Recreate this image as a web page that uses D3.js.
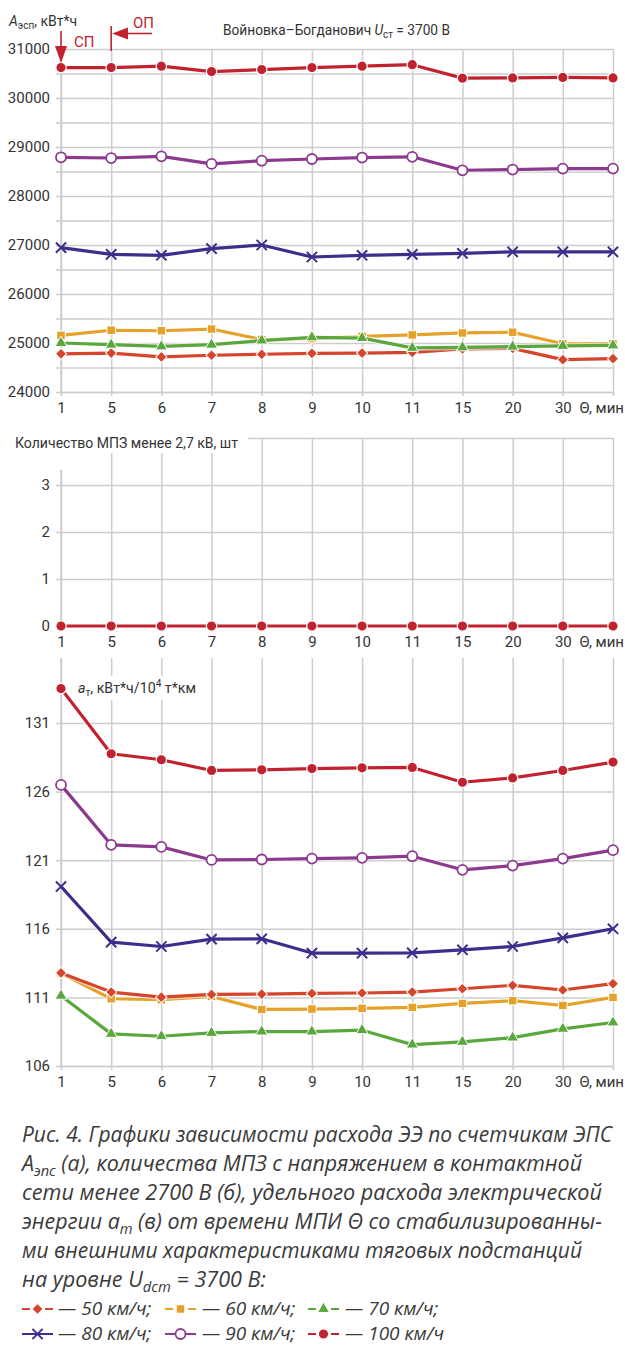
<!DOCTYPE html>
<html lang="ru">
<head>
<meta charset="utf-8">
<script src="https://cdn.jsdelivr.net/npm/d3@7"></script>
<style>
  html, body { margin: 0; padding: 0; background: #fff; }
  svg { display: block; }
  .tick text { font-family: Roboto, "Liberation Sans", sans-serif; font-size: 15px; fill: #333; }
  .lbl { font-family: Roboto, "Liberation Sans", sans-serif; font-size: 14px; fill: #333; }
  .cap { font-family: "Open Sans", "Noto Sans", sans-serif; font-style: italic; font-size: 22px; fill: #3a3a3a; }
  .leg { font-family: "Open Sans", "Noto Sans", sans-serif; font-style: italic; font-size: 19px; fill: #3a3a3a; }
</style>
</head>
<body>
<svg id="chart" width="625" height="1345"></svg>
<script>
// Time between pantograph raisings, min (last point has no label)
const categories = ["1", "5", "6", "7", "8", "9", "10", "11", "15", "20", "30", " "];

// (а) energy by EMU meters, kWh
const energy50  = [24780, 24795, 24715, 24750, 24770, 24790, 24795, 24810, 24880, 24890, 24660, 24680];
const energy60  = [25155, 25260, 25250, 25285, 25070, 25090, 25135, 25165, 25205, 25220, 24985, 24985];
const energy70  = [25000, 24965, 24930, 24965, 25050, 25115, 25100, 24900, 24910, 24925, 24940, 24950];
const energy80  = [26945, 26810, 26790, 26925, 27000, 26755, 26790, 26810, 26830, 26860, 26860, 26860];
const energy90  = [28790, 28775, 28810, 28655, 28720, 28755, 28785, 28800, 28525, 28540, 28560, 28560];
const energy100 = [30620, 30620, 30650, 30540, 30580, 30620, 30650, 30680, 30405, 30410, 30420, 30410];

// (б) number of voltage dips below 2.7 kV
const dips100 = [0, 0, 0, 0, 0, 0, 0, 0, 0, 0, 0, 0];

// (в) specific energy, kWh / 10^4 t·km
const specific50  = [112.78, 111.39, 111.02, 111.22, 111.24, 111.29, 111.32, 111.39, 111.63, 111.88, 111.54, 112.00];
const specific60  = [112.75, 110.90, 110.83, 111.07, 110.12, 110.15, 110.20, 110.27, 110.56, 110.76, 110.41, 111.00];
const specific70  = [111.12, 108.34, 108.17, 108.41, 108.51, 108.51, 108.61, 107.56, 107.76, 108.07, 108.71, 109.17];
const specific80  = [119.08, 115.03, 114.71, 115.25, 115.27, 114.23, 114.23, 114.25, 114.47, 114.71, 115.34, 116.00];
const specific90  = [126.49, 122.12, 121.97, 121.02, 121.05, 121.12, 121.17, 121.29, 120.30, 120.61, 121.12, 121.73];
const specific100 = [133.51, 128.76, 128.32, 127.54, 127.59, 127.68, 127.73, 127.76, 126.68, 127.00, 127.54, 128.15];

const energyTicks = d3.range(24000, 31001, 500);
const energyLabels = d3.range(24000, 31001, 1000);
const dipTicks = [0, 1, 2, 3];
const specificTicks = [106, 111, 116, 121, 126, 131];

// series styles
const style = {
  "50":  { color: "#d4452b", symbol: "diamond" },
  "60":  { color: "#e6a12b", symbol: "square" },
  "70":  { color: "#5aa83d", symbol: "triangle" },
  "80":  { color: "#3e2d8c", symbol: "times" },
  "90":  { color: "#8c3a8e", symbol: "open" },
  "100": { color: "#c0232f", symbol: "circle" }
};
const drawOrder = ["60", "50", "70", "80", "90", "100"];

const svg = d3.select("#chart");
const GRID = "#cdcdcd";
const left = 61, right = 613;

const x = d3.scalePoint().domain(categories).range([left, right]);

function marker(g, key, cx, cy) {
  const s = style[key];
  let p;
  if (s.symbol === "circle") {
    p = g.append("circle").attr("r", 5.2).attr("fill", s.color).attr("stroke", "#fff").attr("stroke-width", 1.2);
  } else if (s.symbol === "open") {
    p = g.append("circle").attr("r", 5).attr("fill", "#fff").attr("stroke", s.color).attr("stroke-width", 1.8);
  } else if (s.symbol === "diamond") {
    p = g.append("path").attr("d", d3.symbol(d3.symbolSquare, 62)()).attr("fill", s.color)
      .attr("stroke", "#fff").attr("stroke-width", 1);
  } else if (s.symbol === "square") {
    p = g.append("path").attr("d", d3.symbol(d3.symbolSquare, 72)()).attr("fill", s.color)
      .attr("stroke", "#fff").attr("stroke-width", 1);
  } else if (s.symbol === "triangle") {
    p = g.append("path").attr("d", d3.symbol(d3.symbolTriangle, 62)()).attr("fill", s.color)
      .attr("stroke", "#fff").attr("stroke-width", 1);
  } else {
    p = g.append("path").attr("d", d3.symbol(d3.symbolTimes, 70)()).attr("fill", "none")
      .attr("stroke", s.color).attr("stroke-width", 2);
  }
  const rot = s.symbol === "diamond" ? " rotate(45)" : "";
  p.attr("transform", `translate(${cx},${cy})${rot}`);
}

function drawSeries(g, y, key, values) {
  const s = style[key];
  const pts = values.map((v, i) => [x(categories[i]), y(v)]);
  g.append("path").attr("d", d3.line()(pts)).attr("fill", "none")
    .attr("stroke", "#fff").attr("stroke-width", 5.5).attr("stroke-opacity", 0.6);
  g.append("path").attr("d", d3.line()(pts)).attr("fill", "none")
    .attr("stroke", s.color).attr("stroke-width", 3.2).attr("stroke-linejoin", "round");
  pts.forEach(([cx, cy]) => marker(g, key, cx, cy));
}

function frame(y, gridTicks, labelTicks, topY, bottomY, fmt) {
  const g = svg.append("g");
  // horizontal grid
  g.append("g").attr("transform", `translate(${left},0)`)
    .call(d3.axisLeft(y).tickValues(gridTicks).tickSize(-(right - left)).tickFormat(""))
    .call(a => a.select(".domain").remove())
    .call(a => a.selectAll("line").attr("stroke", GRID).attr("stroke-width", 1.5));
  // vertical grid
  g.append("g").attr("transform", `translate(0,${bottomY})`)
    .call(d3.axisBottom(x).tickSize(-(bottomY - topY)).tickFormat(""))
    .call(a => a.select(".domain").remove())
    .call(a => a.selectAll("line").attr("stroke", GRID).attr("stroke-width", 1.5));
  // left axis
  g.append("g").attr("transform", `translate(${left},0)`)
    .call(d3.axisLeft(y).tickValues(gridTicks).tickSize(5).tickPadding(6)
      .tickFormat(d => labelTicks.includes(d) ? fmt(d) : ""))
    .call(a => a.select(".domain").attr("d", `M0,${topY}V${bottomY}`).attr("stroke", GRID).attr("stroke-width", 1.5))
    .call(a => a.selectAll("line").attr("stroke", GRID).attr("stroke-width", 1.5));
  // bottom axis
  g.append("g").attr("transform", `translate(0,${bottomY})`)
    .call(d3.axisBottom(x).tickSize(4).tickPadding(6))
    .call(a => a.select(".domain").attr("stroke", GRID).attr("stroke-width", 1.5))
    .call(a => a.selectAll("line").attr("stroke", GRID).attr("stroke-width", 1.5));
  g.append("text").attr("class", "lbl").attr("x", 624).attr("y", bottomY + 21)
    .attr("text-anchor", "end").style("font-size", "15px").text("Θ, мин");
  return g;
}

// ---------- (а) energy ----------
const yE = d3.scaleLinear().domain([24000, 31000]).range([392, 49]);
frame(yE, energyTicks, energyLabels, 49, 392, d3.format("d"));
const gE = svg.append("g");
const energy = { "50": energy50, "60": energy60, "70": energy70, "80": energy80, "90": energy90, "100": energy100 };
drawOrder.forEach(k => drawSeries(gE, yE, k, energy[k]));

const tE = svg.append("text").attr("class", "lbl").attr("x", 9).attr("y", 26);
tE.append("tspan").attr("font-style", "italic").text("A");
tE.append("tspan").attr("dy", 3).style("font-size", "10px").text("эсп");
tE.append("tspan").attr("dy", -3).text(", кВт*ч");

const tT = svg.append("text").attr("class", "lbl").attr("x", 223).attr("y", 35)
  .attr("textLength", 227).attr("lengthAdjust", "spacingAndGlyphs");
tT.append("tspan").text("Войновка–Богданович ");
tT.append("tspan").attr("font-style", "italic").text("U");
tT.append("tspan").attr("dy", 3).style("font-size", "10px").text("ст");
tT.append("tspan").attr("dy", -3).text(" = 3700 В");

// switching-point markers
const RED = "#c0232f";
const ann = svg.append("g").attr("fill", RED).attr("stroke", RED);
ann.append("line").attr("x1", left).attr("x2", left).attr("y1", 31).attr("y2", 48).attr("stroke-width", 1.6);
ann.append("path").attr("d", `M${left - 6},46 L${left + 6},46 L${left},63 Z`).attr("stroke", "none");
ann.append("line").attr("x1", x("5")).attr("x2", x("5")).attr("y1", 26).attr("y2", 51).attr("stroke-width", 1.6);
ann.append("line").attr("x1", 126).attr("x2", 152).attr("y1", 33.5).attr("y2", 33.5).attr("stroke-width", 1.6);
ann.append("path").attr("d", `M${x("5") + 1},33.5 L128,27.5 L128,39.5 Z`).attr("stroke", "none");
svg.append("text").attr("class", "lbl").attr("x", 74).attr("y", 47).style("font-size", "15px")
  .style("fill", RED).text("СП");
svg.append("text").attr("class", "lbl").attr("x", 133).attr("y", 28).style("font-size", "15px")
  .style("fill", RED).text("ОП");

// ---------- (б) voltage dips ----------
const yD = d3.scaleLinear().domain([0, 4]).range([626, 438]);
frame(yD, [0, 1, 2, 3, 4], dipTicks, 438, 626, d3.format("d"));
svg.append("rect").attr("x", 0).attr("y", 418).attr("width", 248).attr("height", 35).attr("fill", "#fff");
svg.append("rect").attr("x", 50).attr("y", 418).attr("width", 20).attr("height", 52).attr("fill", "#fff");
svg.append("text").attr("class", "lbl").attr("x", 15).attr("y", 448)
  .attr("textLength", 223).attr("lengthAdjust", "spacingAndGlyphs")
  .text("Количество МПЗ менее 2,7 кВ, шт");
drawSeries(svg.append("g"), yD, "100", dips100);

// ---------- (в) specific energy ----------
const yS = d3.scaleLinear().domain([106, 131]).range([1066, 723]);
frame(yS, specificTicks, specificTicks, 658, 1066, d3.format("d"));
svg.append("rect").attr("x", 74).attr("y", 676).attr("width", 126).attr("height", 24).attr("fill", "#fff");
const tS = svg.append("text").attr("class", "lbl").attr("x", 78).attr("y", 693)
  .attr("textLength", 118).attr("lengthAdjust", "spacingAndGlyphs");
tS.append("tspan").attr("font-style", "italic").text("a");
tS.append("tspan").attr("dy", 3).style("font-size", "10px").text("т");
tS.append("tspan").attr("dy", -3).text(", кВт*ч/10");
tS.append("tspan").attr("dy", -6).style("font-size", "10px").text("4");
tS.append("tspan").attr("dy", 6).text(" т*км");
const gS = svg.append("g");
const specific = { "50": specific50, "60": specific60, "70": specific70, "80": specific80, "90": specific90, "100": specific100 };
drawOrder.forEach(k => drawSeries(gS, yS, k, specific[k]));

// ---------- caption ----------
const capLines = [
  { y: 1142, w: 590, parts: [["Рис. 4. Графики зависимости расхода ЭЭ по счетчикам ЭПС"]] },
  { y: 1171, w: 560, parts: [["А"], ["эпс", "sub"], [" (а), количества МПЗ с напряжением в контактной"]] },
  { y: 1200, w: 580, parts: [["сети менее 2700 В (б), удельного расхода электрической"]] },
  { y: 1229, w: 580, parts: [["энергии a"], ["m", "sub"], [" (в) от времени МПИ Θ со стабилизированны-"]] },
  { y: 1258, w: 560, parts: [["ми внешними характеристиками тяговых подстанций"]] },
  { y: 1287, w: 244, parts: [["на уровне U"], ["dcm", "sub"], [" = 3700 В:"]] }
];
capLines.forEach(l => {
  const t = svg.append("text").attr("class", "cap").attr("x", 22).attr("y", l.y)
    .attr("textLength", l.w).attr("lengthAdjust", "spacingAndGlyphs");
  l.parts.forEach(([s, kind]) => {
    const sp = t.append("tspan").text(s);
    if (kind === "sub") sp.attr("dy", 5).style("font-size", "15px");
    else if (t.selectAll("tspan").size() > 1) sp.attr("dy", -5);
  });
});

// ---------- legend ----------
const legendRows = [["50", "60", "70"], ["80", "90", "100"]];
const legX = [22, 165, 308];
const textX = [58, 202, 345];
legendRows.forEach((row, r) => {
  const cy = 1309 + r * 25;
  row.forEach((k, c) => {
    const g = svg.append("g");
    g.append("line").attr("x1", legX[c]).attr("x2", legX[c] + 31).attr("y1", cy).attr("y2", cy)
      .attr("stroke", style[k].color).attr("stroke-width", 2);
    if (style[k].symbol !== "times" && style[k].symbol !== "open") {
      g.append("rect").attr("x", legX[c] + 8).attr("y", cy - 3).attr("width", 15).attr("height", 6).attr("fill", "#fff");
    }
    marker(g, k, legX[c] + 15.5, cy);
    const last = r === 1 && c === 2;
    svg.append("text").attr("class", "leg").attr("x", textX[c]).attr("y", cy + 6)
      .text(`— ${k} км/ч${last ? "" : ";"}`);
  });
});
</script>
</body>
</html>
